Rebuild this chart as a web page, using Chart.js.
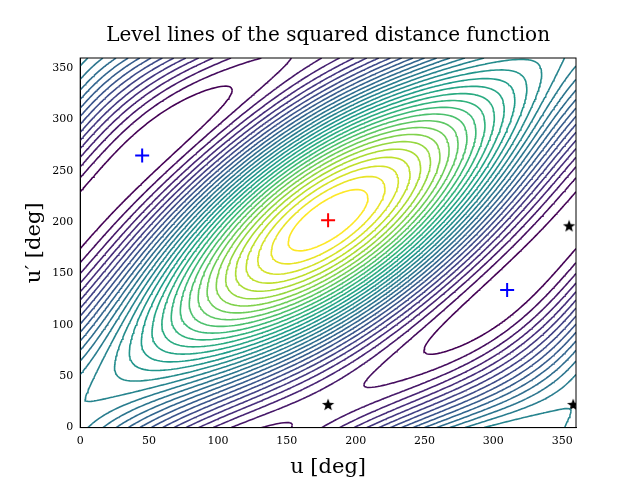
<!DOCTYPE html>
<html><head><meta charset="utf-8">
<script src="https://cdn.jsdelivr.net/npm/chart.js@4"></script>
<style>html,body{margin:0;padding:0;background:#fff}#w{width:640px;height:480px}</style>
</head><body><div id="w"><canvas id="c" width="640" height="480"></canvas></div>
<script>
// Model parameters of the squared-distance surface (centre and weights)
const centre = [180, 202];
const weights = [0.44, 0.35, 1.0]; // a (u), b (u'), c (u-u')
const nLevels = 32;
const xTicks = [0,50,100,150,200,250,300,350];
const yTicks = [0,50,100,150,200,250,300,350];
const bluePlus = [{x:45,y:265},{x:310,y:134}];
const redPlus = [{x:180,y:202}];
const stars = [{x:180,y:22},{x:355,y:196},{x:358,y:22}];

const viridis=[[68,1,84],[72,40,120],[62,74,137],[49,104,142],[38,130,142],[31,158,137],[53,183,121],[110,206,88],[181,222,43],[253,231,37]];
function vcol(t){t=Math.max(0,Math.min(1,t));const s=t*(viridis.length-1),i=Math.min(Math.floor(s),viridis.length-2),f=s-i;
const a=viridis[i],b=viridis[i+1];return `rgb(${Math.round(a[0]+(b[0]-a[0])*f)},${Math.round(a[1]+(b[1]-a[1])*f)},${Math.round(a[2]+(b[2]-a[2])*f)})`;}
const R=Math.PI/180;
function F(u,v){const x=(u-centre[0])*R,y=(v-centre[1])*R;
return weights[0]*(1+Math.cos(x))+weights[1]*(1+Math.cos(y))+weights[2]*(1+Math.cos(x-y));}
const N=180,step=360/N,G=[];let mn=1e9,mx=-1e9;
for(let i=0;i<=N;i++){G.push([]);for(let j=0;j<=N;j++){const v=F(i*step,j*step);G[i].push(v);mn=Math.min(mn,v);mx=Math.max(mx,v);}}
const levels=[];for(let k=1;k<=nLevels;k++)levels.push(mn+(mx-mn)*k/(nLevels+1));
function interp(p1,p2,v1,v2,L){const t=(L-v1)/(v2-v1);return {x:p1[0]+(p2[0]-p1[0])*t,y:p1[1]+(p2[1]-p1[1])*t};}
const datasets=[];
levels.forEach((L,k)=>{const pts=[];
for(let i=0;i<N;i++)for(let j=0;j<N;j++){
const c=[[i*step,j*step],[(i+1)*step,j*step],[(i+1)*step,(j+1)*step],[i*step,(j+1)*step]];
const v=[G[i][j],G[i+1][j],G[i+1][j+1],G[i][j+1]];const e=[];
for(let m=0;m<4;m++){const n=(m+1)%4;if((v[m]<L)!==(v[n]<L))e.push(interp(c[m],c[n],v[m],v[n],L));}
if(e.length===2){pts.push(e[0],e[1],{x:e[1].x,y:null});}
else if(e.length===4){pts.push(e[0],e[1],{x:e[1].x,y:null},e[2],e[3],{x:e[3].x,y:null});}}
datasets.push({type:'line',data:pts,showLine:true,spanGaps:false,borderColor:vcol(k/(nLevels-1)),borderWidth:1.6,pointRadius:0,fill:false,tension:0});});
function starImg(){const c=document.createElement('canvas');c.width=14;c.height=14;const g=c.getContext('2d');g.fillStyle='#000';g.beginPath();
for(let i=0;i<10;i++){const r=i%2?2.7:6.5,a=-Math.PI/2+i*Math.PI/5;g.lineTo(7+r*Math.cos(a),7+r*Math.sin(a));}g.closePath();g.fill();return c;}
datasets.push({type:'scatter',data:bluePlus,pointStyle:'cross',pointRadius:7,borderColor:'#0000ff',borderWidth:2});
datasets.push({type:'scatter',data:redPlus,pointStyle:'cross',pointRadius:7,borderColor:'#ff0000',borderWidth:2});
datasets.push({type:'scatter',data:stars,pointStyle:starImg(),pointRadius:7});
const serif='"DejaVu Serif", serif';
new Chart(document.getElementById('c'),{type:'scatter',data:{datasets},
options:{responsive:false,animation:false,events:[],
layout:{padding:{left:18,right:64,top:20,bottom:0}},
plugins:{legend:{display:false},tooltip:{enabled:false},
title:{display:true,fullSize:false,text:'Level lines of the squared distance function',font:{family:serif,size:20,weight:'normal'},color:'#000',padding:{top:4,bottom:10}}},
scales:{
x:{type:'linear',min:0,max:360,afterBuildTicks:a=>{a.ticks=xTicks.map(v=>({value:v}));},
grid:{display:false,drawTicks:true,tickLength:4,tickColor:'#000'},border:{color:'#000'},
ticks:{color:'#000',font:{family:serif,size:11},maxRotation:0},
title:{display:true,text:'u [deg]',color:'#000',font:{family:serif,size:21},padding:{top:4,bottom:0}}},
y:{type:'linear',min:0,max:360,afterBuildTicks:a=>{a.ticks=yTicks.map(v=>({value:v}));},
grid:{display:false,drawTicks:true,tickLength:4,tickColor:'#000'},border:{color:'#000'},
ticks:{color:'#000',font:{family:serif,size:11}},
title:{display:true,text:'u′ [deg]',color:'#000',font:{family:serif,size:21},padding:{bottom:2}}}}},
plugins:[{id:'frame',afterDraw(ch){const a=ch.chartArea,g=ch.ctx;g.save();g.strokeStyle='#000';g.lineWidth=1;g.strokeRect(a.left,a.top,a.right-a.left,a.bottom-a.top);g.restore();}}]});
</script></body></html>
